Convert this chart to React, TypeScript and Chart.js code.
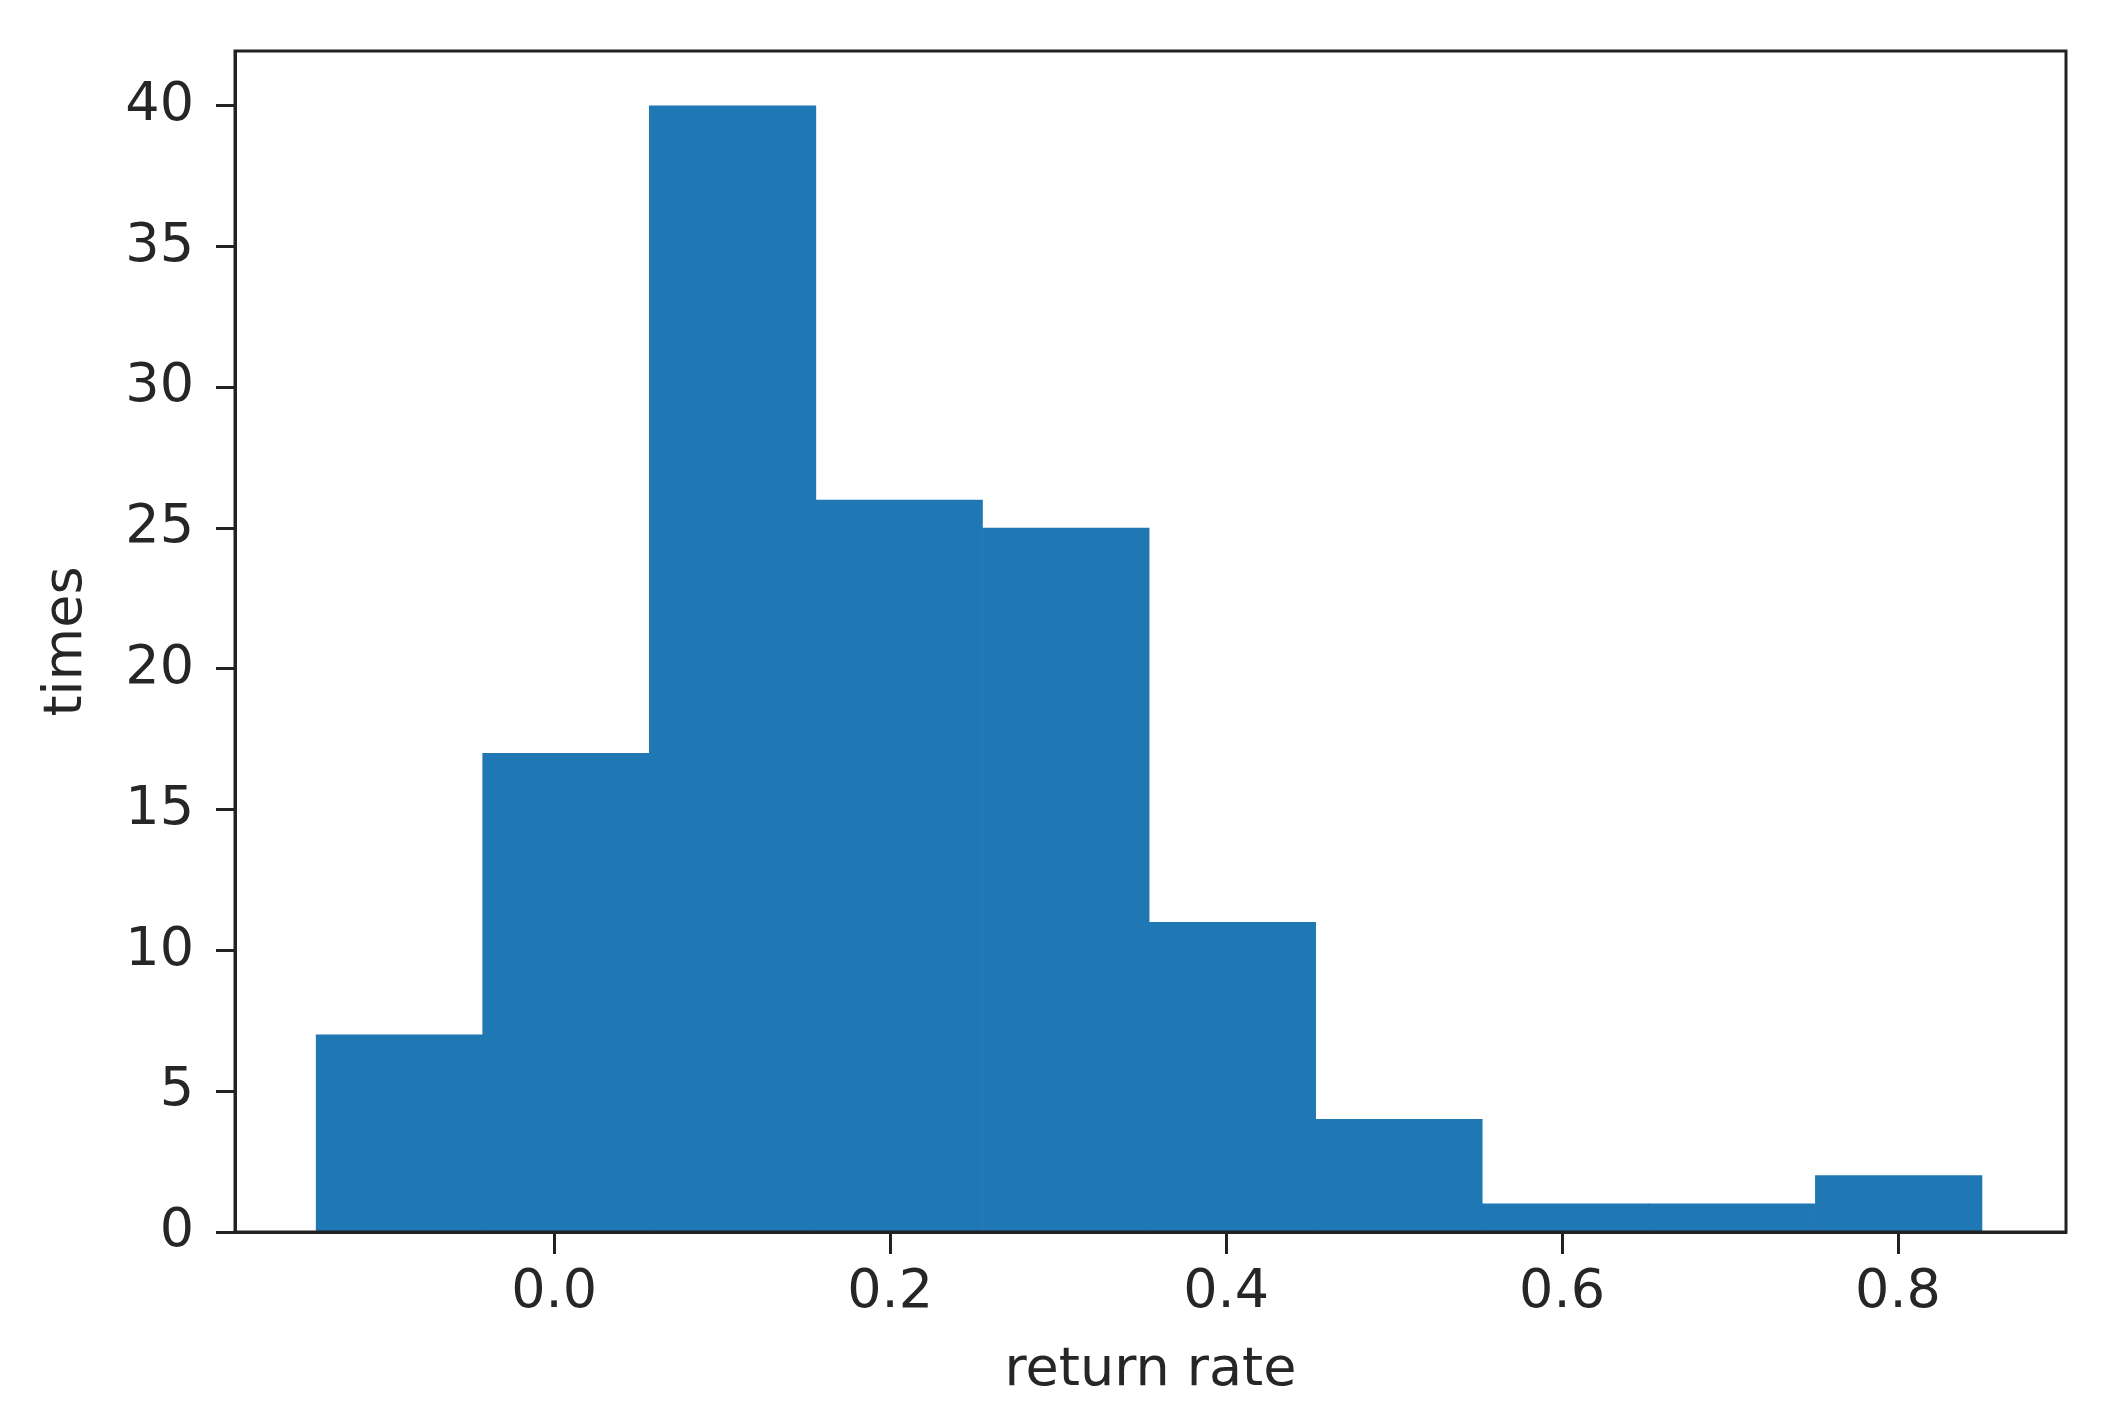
import React, { useEffect, useRef } from "react";
import { Chart, registerables } from "chart.js";

Chart.register(...registerables);

// Histogram data
const binEdges = [-0.1417, -0.0425, 0.0566, 0.1558, 0.255, 0.3542, 0.4533, 0.5525, 0.6517, 0.7508, 0.85];
const counts = [7, 17, 40, 26, 25, 11, 4, 1, 1, 2];
const xTicks = [0.0, 0.2, 0.4, 0.6, 0.8];
const yTicks = [0, 5, 10, 15, 20, 25, 30, 35, 40];
const xRange = [-0.19, 0.9];
const yRange = [0, 41.95];
const xLabel = "return rate";
const yLabel = "times";

const W = 2106;
const H = 1424;
const AXIS_COLOR = "#222222";
const TEXT_COLOR = "#262626";
const BAR_COLOR = "#1f77b4";
const FONT = "'DejaVu Sans', 'Liberation Sans', sans-serif";

const framePlugin = {
  id: "frame",
  afterDraw(chart: any) {
    const { ctx, chartArea: a } = chart;
    ctx.save();
    ctx.strokeStyle = AXIS_COLOR;
    ctx.lineWidth = 3;
    ctx.strokeRect(a.left, a.top, a.right - a.left, a.bottom - a.top);
    ctx.restore();
  },
};

export default function App() {
  const ref = useRef<HTMLCanvasElement | null>(null);

  useEffect(() => {
    if (!ref.current) return;
    const data = counts.map((c, i) => ({ x: (binEdges[i] + binEdges[i + 1]) / 2, y: c }));
    const chart = new Chart(ref.current, {
      type: "bar",
      data: {
        datasets: [
          {
            data,
            backgroundColor: BAR_COLOR,
            borderWidth: 0,
            barPercentage: 1,
            categoryPercentage: 1,
          } as any,
        ],
      },
      options: {
        animation: false,
        responsive: false,
        maintainAspectRatio: false,
        devicePixelRatio: 1,
        layout: { padding: { left: 0, top: 51, right: 40, bottom: 0 } },
        plugins: {
          legend: { display: false },
          tooltip: { enabled: false },
        },
        scales: {
          x: {
            type: "linear",
            min: xRange[0],
            max: xRange[1],
            offset: false,
            z: 1,
            afterBuildTicks: (s: any) => {
              s.ticks = xTicks.map((v) => ({ value: v }));
            },
            afterFit: (s: any) => {
              s.height = H - 1232;
              s.paddingLeft = 0;
              s.paddingRight = 0;
            },
            grid: {
              display: true,
              drawOnChartArea: false,
              drawTicks: true,
              tickLength: 22,
              tickWidth: 3,
              tickColor: AXIS_COLOR,
              offset: false,
            },
            border: { display: true, color: AXIS_COLOR, width: 3 },
            ticks: {
              color: TEXT_COLOR,
              font: { family: FONT, size: 54 },
              padding: 7,
              maxRotation: 0,
              autoSkip: false,
              callback: (v: any) => Number(v).toFixed(1),
            },
            title: {
              display: true,
              text: xLabel,
              color: TEXT_COLOR,
              font: { family: FONT, size: 54 },
              padding: { top: 0, bottom: 21 },
            },
          },
          y: {
            type: "linear",
            min: yRange[0],
            max: yRange[1],
            z: 1,
            afterBuildTicks: (s: any) => {
              s.ticks = yTicks.map((v) => ({ value: v }));
            },
            afterFit: (s: any) => {
              s.width = 235;
              s.paddingTop = 0;
              s.paddingBottom = 0;
            },
            grid: {
              display: true,
              drawOnChartArea: false,
              drawTicks: true,
              tickLength: 19,
              tickWidth: 3,
              tickColor: AXIS_COLOR,
            },
            border: { display: true, color: AXIS_COLOR, width: 3 },
            ticks: {
              color: TEXT_COLOR,
              font: { family: FONT, size: 54 },
              padding: 22,
              autoSkip: false,
              callback: (v: any) => String(v),
            },
            title: {
              display: true,
              text: yLabel,
              color: TEXT_COLOR,
              font: { family: FONT, size: 54 },
              padding: { top: 35, bottom: 0 },
            },
          },
        },
      },
      plugins: [framePlugin],
    } as any);
    return () => chart.destroy();
  }, []);

  return (
    <div style={{ position: "fixed", left: 0, top: 0, width: W, height: H, background: "#ffffff" }}>
      <canvas ref={ref} width={W} height={H} style={{ display: "block", width: W, height: H }} />
    </div>
  );
}
